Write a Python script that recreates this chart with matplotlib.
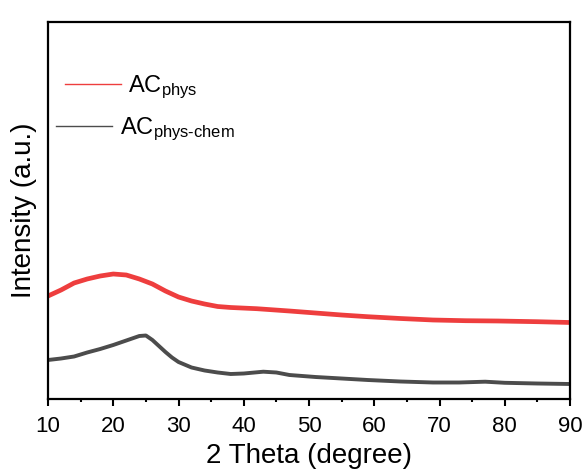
import matplotlib
matplotlib.use("Agg")
import matplotlib.pyplot as plt
from matplotlib.lines import Line2D

plt.rcParams['font.family'] = ['Liberation Sans', 'DejaVu Sans']
plt.rcParams['mathtext.fontset'] = 'custom'
plt.rcParams['mathtext.rm'] = 'Liberation Sans'
plt.rcParams['mathtext.it'] = 'Liberation Sans'
plt.rcParams['mathtext.default'] = 'regular'

# Data (intensity in arbitrary units)
two_theta_phys = [10, 12, 14, 16, 18, 20, 22, 24, 26, 28, 30, 32, 34, 36, 38, 42, 47, 51, 55, 59, 64, 69, 74, 79, 85, 90]
intensity_phys = [103, 109, 116, 120, 123, 125, 124, 120, 115, 108, 102, 98, 95, 92.5, 91.5, 90.3, 88, 86, 84, 82.3, 80.5, 79, 78.3, 78, 77.3, 76.5]

two_theta_chem = [10, 12, 14, 16, 18, 20, 22, 24, 25, 26, 27, 28, 29, 30, 32, 34, 36, 38, 40, 43, 45, 47, 51, 55, 59, 64, 69, 73, 77, 80, 85, 90]
intensity_chem = [39, 40.5, 42.5, 46.5, 50, 54, 58.5, 63, 63.5, 59, 53, 47, 41.5, 37, 31.5, 28.5, 26.5, 25, 25.5, 27.3, 26.5, 24, 22, 20.5, 19, 17.5, 16.5, 16.5, 17.3, 16.2, 15.5, 15]

x_ticks = [10, 20, 30, 40, 50, 60, 70, 80, 90]
label_phys = r'AC$_{\text{phys}}$'
label_chem = r'AC$_{\text{phys-chem}}$'

red = '#EE3E3E'
dark = '#4C4C4C'

fig = plt.figure(figsize=(5.85, 4.69), dpi=100)
ax = fig.add_axes([48/585, 70/469, (570-48)/585, (399-22)/469])

ax.plot(two_theta_phys, intensity_phys, color=red, lw=3.4, solid_joinstyle='round')
ax.plot(two_theta_chem, intensity_chem, color=dark, lw=2.8, solid_joinstyle='round')

ax.set_xlim(10, 90)
ax.set_ylim(0, 377)
ax.set_xticks(x_ticks)
ax.set_xticks([15, 25, 35, 45, 55, 65, 75, 85], minor=True)
ax.set_yticks([])
ax.tick_params(axis='x', which='major', direction='out', length=5, width=1.5, labelsize=16, pad=7.2)
ax.tick_params(axis='x', which='minor', direction='out', length=2.5, width=1.5)
for s in ax.spines.values():
    s.set_linewidth(1.6)

ax.set_xlabel('2 Theta (degree)', fontsize=20, labelpad=4.6)
ax.set_ylabel('Intensity (a.u.)', fontsize=20, labelpad=8)

fs = 17
h1 = Line2D([], [], color=red, lw=1)
leg1 = ax.legend([h1], [label_phys], loc='center left', bbox_to_anchor=(65/585, 1-87/469),
                 bbox_transform=fig.transFigure, frameon=False, fontsize=fs,
                 handlelength=56/23.6, handletextpad=7/23.6, borderpad=0, borderaxespad=0)
ax.add_artist(leg1)
h2 = Line2D([], [], color=dark, lw=1)
ax.legend([h2], [label_chem], loc='center left', bbox_to_anchor=(56/585, 1-129/469),
          bbox_transform=fig.transFigure, frameon=False, fontsize=fs,
          handlelength=56/23.6, handletextpad=8/23.6, borderpad=0, borderaxespad=0)

fig.savefig('out.png', dpi=100)
